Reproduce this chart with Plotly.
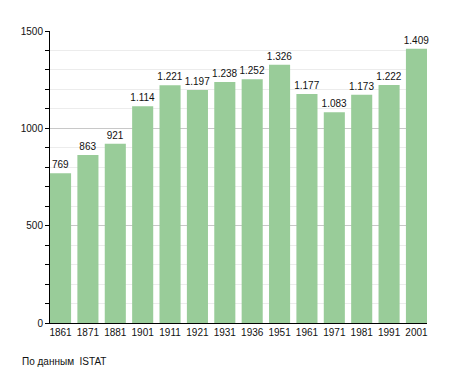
import plotly.graph_objects as go

years = ["1861", "1871", "1881", "1901", "1911", "1921", "1931", "1936",
         "1951", "1961", "1971", "1981", "1991", "2001"]
population = [769, 863, 921, 1114, 1221, 1197, 1238, 1252, 1326, 1177,
              1083, 1173, 1222, 1409]
y_ticks = [0, 500, 1000, 1500]
source_note = "По данным  ISTAT"

x_idx = list(range(len(years)))

FONT = "Liberation Sans, Arial, sans-serif"

fig = go.Figure()
fig.add_trace(go.Bar(
    x=x_idx, y=population,
    marker=dict(color="#99cc99", line=dict(width=0)),
    texttemplate="%{y:,}", textposition="outside",
    textfont=dict(family=FONT, size=10, color="#111"),
    constraintext="none",
    cliponaxis=False, hoverinfo="skip",
))

# page body has an 8px default margin, so the figure is sized/offset to compensate
fig.update_layout(
    width=447, height=365,
    margin=dict(l=42, r=28, t=23, b=50),
    plot_bgcolor="white", paper_bgcolor="white",
    separators=",.",
    bargap=0.23,
    showlegend=False,
    font=dict(family=FONT, size=10, color="#111"),
    xaxis=dict(
        tickmode="array", tickvals=x_idx, ticktext=years,
        range=[-0.385, len(years) - 1 + 0.385],
        showline=True, linecolor="black", linewidth=1,
        ticks="", showgrid=False, zeroline=False,
        tickfont=dict(size=10),
    ),
    yaxis=dict(
        range=[0, 1500], tickvals=y_ticks,
        showline=True, linecolor="black", linewidth=1,
        ticks="outside", ticklen=4, tickcolor="black",
        showgrid=True, gridcolor="#c8c8c8", gridwidth=1,
        zeroline=False,
        minor=dict(dtick=100, ticks="outside", ticklen=4, tickcolor="black",
                   showgrid=True, gridcolor="#ececec", gridwidth=1),
        tickfont=dict(size=10),
    ),
    annotations=[dict(
        text=source_note, xref="paper", yref="paper",
        x=-30 / 377, y=-38 / 292, xanchor="left", yanchor="middle",
        showarrow=False, font=dict(size=10, color="#111"),
    )],
)

fig.write_html("out.html")
